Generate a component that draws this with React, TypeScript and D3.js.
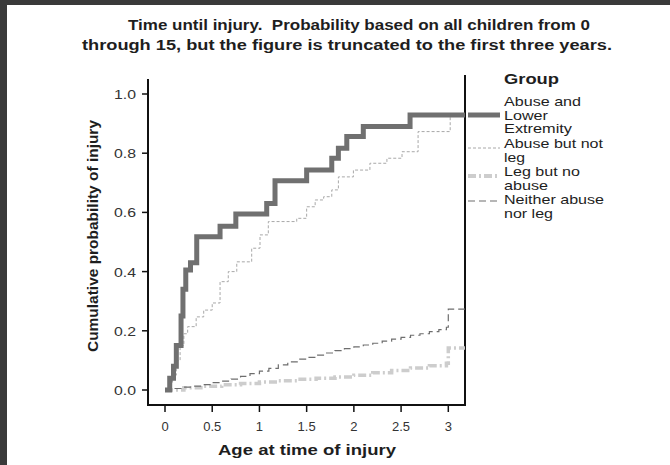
import React from "react";
import * as d3 from "d3";

const titleLines = [
  "Time until injury.  Probability based on all children from 0",
  "through 15, but the figure is truncated to the first three years.",
];
const xTicks = [0, 0.5, 1, 1.5, 2, 2.5, 3];
const yTicks = [0, 0.2, 0.4, 0.6, 0.8, 1.0];

// step data: [time, cumulative probability from this time on]
const abuseLower: [number, number][] = [
  [0, 0], [0.05, 0.04], [0.09, 0.08], [0.12, 0.15], [0.17, 0.25], [0.19, 0.34],
  [0.22, 0.405], [0.27, 0.43], [0.336, 0.518], [0.583, 0.553], [0.75, 0.595],
  [1.077, 0.63], [1.165, 0.707], [1.5, 0.743], [1.766, 0.783], [1.836, 0.817],
  [1.925, 0.856], [2.1, 0.89], [2.595, 0.929],
];
const abuseNotLeg: [number, number][] = [
  [0, 0], [0.04, 0.02], [0.08, 0.05], [0.12, 0.1], [0.16, 0.15], [0.2, 0.19],
  [0.24, 0.214], [0.33, 0.247], [0.41, 0.27], [0.5, 0.294], [0.583, 0.366],
  [0.67, 0.4], [0.76, 0.433], [0.918, 0.479], [1.006, 0.524], [1.094, 0.569],
  [1.395, 0.58], [1.5, 0.619], [1.59, 0.642], [1.68, 0.653], [1.766, 0.676],
  [1.836, 0.72], [1.995, 0.743], [2.17, 0.766], [2.35, 0.783], [2.51, 0.805],
  [2.68, 0.873], [3.02, 0.929],
];
const legNoAbuse: [number, number][] = [
  [0, 0], [0.2, 0.008], [0.4, 0.013], [0.6, 0.018], [0.8, 0.022], [1.0, 0.027],
  [1.2, 0.031], [1.4, 0.036], [1.6, 0.04], [1.8, 0.044], [2.0, 0.05],
  [2.2, 0.058], [2.4, 0.066], [2.6, 0.074], [2.8, 0.082], [2.98, 0.09], [3.0, 0.142],
];
const neither: [number, number][] = [
  [0, 0], [0.1, 0.005], [0.2, 0.01], [0.3, 0.013], [0.4, 0.018], [0.5, 0.025],
  [0.6, 0.03], [0.7, 0.037], [0.8, 0.046], [0.9, 0.055], [1.0, 0.064],
  [1.1, 0.073], [1.2, 0.085], [1.3, 0.095], [1.4, 0.104], [1.5, 0.11],
  [1.6, 0.118], [1.7, 0.125], [1.8, 0.133], [1.9, 0.14], [2.0, 0.146],
  [2.1, 0.152], [2.2, 0.158], [2.3, 0.165], [2.4, 0.172], [2.5, 0.178],
  [2.6, 0.185], [2.7, 0.19], [2.8, 0.197], [2.9, 0.204], [2.98, 0.212], [3.0, 0.273],
];

const groupLabels = [
  ["Abuse and", "Lower", "Extremity"],
  ["Abuse but not", "leg"],
  ["Leg but no", "abuse"],
  ["Neither abuse", "nor leg"],
];
const groupLabelWidths = [
  [77, 44, 68],
  [99, 21],
  [76, 44],
  [100, 49],
];

const font = "'Liberation Sans', Arial, sans-serif";

export default function App() {
  const W = 670, H = 465;
  const left = 148, right = 465, bottom = 405, top = 79;
  const x = d3.scaleLinear().domain([0, 3]).range([165, 448.3]);
  const y = d3.scaleLinear().domain([0, 1]).range([390, 94]);
  const xEnd = x.invert(right);

  const line = d3
    .line<[number, number]>()
    .x((d) => x(d[0]))
    .y((d) => y(d[1]))
    .curve(d3.curveStepAfter);
  const withEnd = (arr: [number, number][]) => [...arr, [xEnd, arr[arr.length - 1][1]] as [number, number]];

  const st = {
    thick: { stroke: "#707070", width: 5, dash: undefined as string | undefined },
    dotted: { stroke: "#a8a8a8", width: 1, dash: "3,2" },
    dashdot: { stroke: "#cdcdcd", width: 3.5, dash: "8,3,2,3" },
    dashed: { stroke: "#6e6e6e", width: 1.2, dash: "7,4" },
  };
  const series = [
    { data: abuseNotLeg, ...st.dotted },
    { data: legNoAbuse, ...st.dashdot },
    { data: neither, ...st.dashed },
    { data: abuseLower, ...st.thick },
  ];
  const legendStyles = [
    { ...st.thick, y: 115 },
    { ...st.dotted, y: 148 },
    { ...st.dashdot, width: 4, y: 176 },
    { ...st.dashed, y: 201 },
  ];
  const legendStart = [106, 148, 176, 204];

  return (
    <svg
      width={W}
      height={H}
      style={{ position: "absolute", left: 0, top: 0, background: "#fff" }}
      fontFamily={font}
    >
      <rect x={0} y={0} width={W} height={5} fill="#3a3a3a" />
      <rect x={0} y={0} width={7} height={H} fill="#3a3a3a" />
      <text x={128} y={30} fontSize={14.5} fontWeight="bold" fill="#1e1e1e"
        textLength={462} lengthAdjust="spacingAndGlyphs" style={{ whiteSpace: "pre" }}>
        {titleLines[0]}
      </text>
      <text x={82} y={50} fontSize={14.5} fontWeight="bold" fill="#1e1e1e"
        textLength={530} lengthAdjust="spacingAndGlyphs">
        {titleLines[1]}
      </text>
      {/* frame */}
      <line x1={left} x2={left} y1={top} y2={bottom} stroke="#111" strokeWidth={2} />
      <line x1={left - 1} x2={right + 1} y1={bottom} y2={bottom} stroke="#111" strokeWidth={2} />
      <line x1={right} x2={right} y1={top - 4} y2={bottom} stroke="#111" strokeWidth={2} />
      {/* y ticks */}
      {yTicks.map((v) => (
        <g key={v}>
          <line x1={left - 6} x2={left} y1={y(v)} y2={y(v)} stroke="#111" strokeWidth={1.5} />
          <text x={136} y={y(v) + 5} textAnchor="end" fontSize={13.5} fill="#333"
            textLength={22} lengthAdjust="spacingAndGlyphs">
            {v.toFixed(1)}
          </text>
        </g>
      ))}
      {/* x ticks */}
      {xTicks.map((v) => (
        <g key={v}>
          <line x1={x(v)} x2={x(v)} y1={bottom} y2={bottom + 7} stroke="#111" strokeWidth={1.5} />
          <text x={x(v)} y={431} textAnchor="middle" fontSize={13} fill="#333">
            {String(v)}
          </text>
        </g>
      ))}
      <text x={218} y={455} fontSize={14} fontWeight="bold" fill="#1e1e1e"
        textLength={178} lengthAdjust="spacingAndGlyphs">
        Age at time of injury
      </text>
      <text
        transform={`translate(98,352) rotate(-90)`}
        fontSize={14.5}
        fontWeight="bold"
        fill="#1e1e1e"
        textLength={232}
        lengthAdjust="spacingAndGlyphs"
      >
        Cumulative probability of injury
      </text>
      {/* series */}
      {series.map((s, i) => (
        <path
          key={i}
          d={line(withEnd(s.data)) || ""}
          fill="none"
          stroke={s.stroke}
          strokeWidth={s.width}
          strokeDasharray={s.dash}
        />
      ))}
      {/* legend */}
      <text x={504} y={84} fontSize={14.5} fontWeight="bold" fill="#1e1e1e"
        textLength={55} lengthAdjust="spacingAndGlyphs">
        Group
      </text>
      {legendStyles.map((s, i) => (
        <line
          key={i}
          x1={468}
          x2={500}
          y1={s.y}
          y2={s.y}
          stroke={s.stroke}
          strokeWidth={s.width}
          strokeDasharray={s.dash}
        />
      ))}
      {groupLabels.map((lines, i) =>
        lines.map((l, j) => (
          <text key={i + "-" + j} x={504} y={legendStart[i] + j * 13.7} fontSize={13} fill="#1e1e1e"
            textLength={groupLabelWidths[i][j]} lengthAdjust="spacingAndGlyphs">
            {l}
          </text>
        ))
      )}
    </svg>
  );
}
